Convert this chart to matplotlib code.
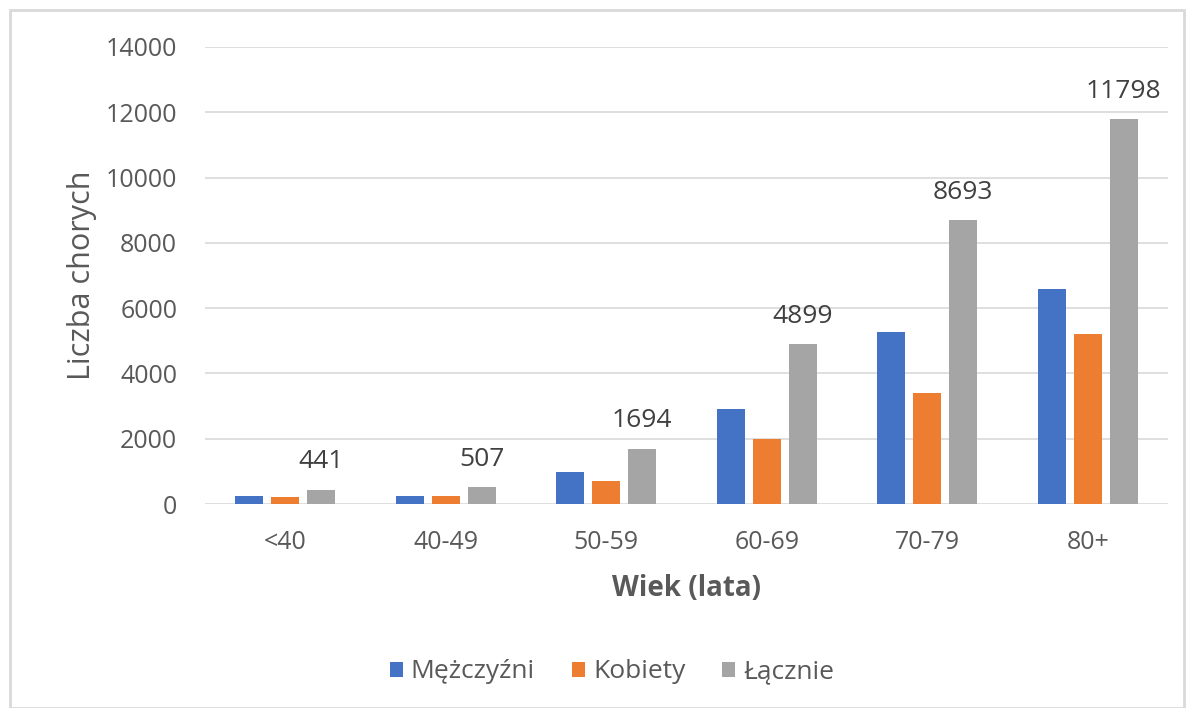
import numpy as np
import matplotlib.pyplot as plt
from matplotlib.patches import Rectangle

plt.rcParams['font.family'] = ['Open Sans', 'DejaVu Sans']

categories = ['<40', '40-49', '50-59', '60-69', '70-79', '80+']
mezczyzni = [230, 260, 980, 2920, 5280, 6580]
kobiety = [211, 247, 714, 1979, 3413, 5218]
lacznie = [441, 507, 1694, 4899, 8693, 11798]
series_names = ['Mężczyźni', 'Kobiety', 'Łącznie']
colors = ['#4472C4', '#ED7D31', '#A5A5A5']

fig = plt.figure(figsize=(11.94, 7.08), dpi=100)
ax = fig.add_axes([205 / 1194, 1 - 504 / 708, 963 / 1194, 457 / 708])

# border around the whole chart like in Excel
fig.patches.append(Rectangle((10 / 1194, 0), 1 - 20 / 1194, 1 - 10 / 708,
                             transform=fig.transFigure, fill=False,
                             edgecolor='#D9D9D9', linewidth=2))

x = np.arange(len(categories))
width = 0.175
step = 0.224
for i, (vals, name, c) in enumerate(zip([mezczyzni, kobiety, lacznie], series_names, colors)):
    bars = ax.bar(x + (i - 1) * step, vals, width, color=c, label=name, zorder=3)
    if i == 2:
        for b, v in zip(bars, vals):
            ax.annotate(str(v), (b.get_x() + b.get_width() / 2, v),
                        xytext=(0, 11), textcoords='offset points',
                        ha='center', va='bottom', fontsize=19, color='#404040')

ax.set_xlim(-0.5, len(categories) - 0.5)
ax.set_ylim(0, 14000)
ax.set_yticks(range(0, 14001, 2000))
ax.set_xticks(x)
ax.set_xticklabels(categories)
ax.grid(axis='y', color='#D9D9D9', linewidth=1.2, zorder=0)
for s in ax.spines.values():
    s.set_visible(False)
ax.tick_params(length=0, labelsize=18, colors='#595959')
ax.tick_params(axis='x', pad=19)
ax.tick_params(axis='y', pad=20)

ax.set_ylabel('Liczba chorych', fontsize=22, color='#595959', va='center')
ax.yaxis.set_label_coords(-0.128, 0.5)
ax.set_xlabel('Wiek (lata)', fontsize=20, color='#595959', fontweight='bold', va='center')
ax.xaxis.set_label_coords(0.5, -0.184)

fig.legend(loc='center', bbox_to_anchor=(612 / 1194, 1 - 672 / 708), ncol=3,
           frameon=False, fontsize=19, labelcolor='#595959',
           handlelength=0.5, handleheight=0.5, handletextpad=0.3, columnspacing=1.4)

fig.savefig('out.png', dpi=100)
